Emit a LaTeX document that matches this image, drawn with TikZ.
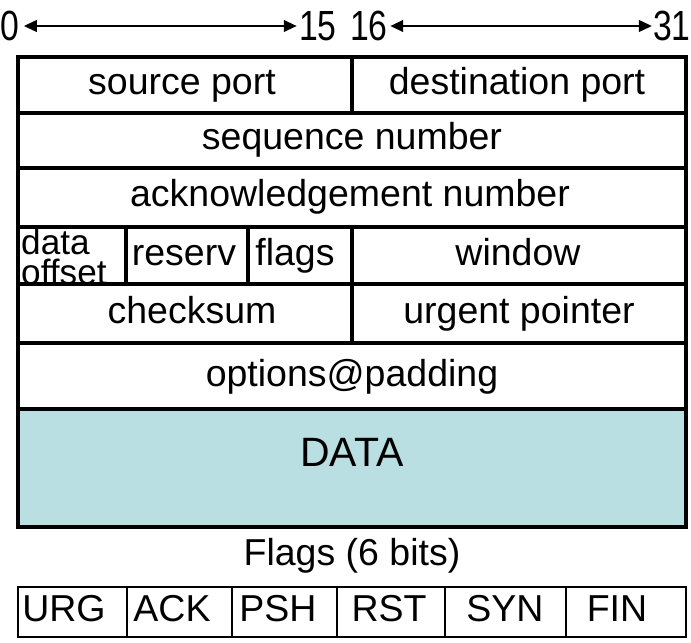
\documentclass[tikz,border=0pt]{standalone}
\usepackage{fontspec}
\setmainfont{Liberation Sans}
\newfontfamily\narrowdigits[FakeStretch=0.8]{Liberation Sans}
\usetikzlibrary{arrows.meta}
\definecolor{datacyan}{RGB}{186,223,227}
\tikzset{
  field/.style={font=\fontsize{32}{30}\selectfont, inner sep=1pt, text height=23pt, text depth=6pt},
  bignum/.style={font=\narrowdigits\fontsize{36}{30}\selectfont, inner sep=2pt, text height=25pt, text depth=0pt},
  rowline/.style={line width=2.8pt},
  flagline/.style={line width=1.6pt},
  bitarrow/.style={line width=1.5pt, {Triangle[length=11pt,width=10pt]}-{Triangle[length=11pt,width=10pt]}}
}

\begin{document}
\begin{tikzpicture}[x=0.03cm, y=-0.03cm]
\useasboundingbox (0,0) rectangle (691,643);
% bit numbers
\node[bignum, anchor=west, inner sep=0pt] (b0) at (0,26) {0};
\node[bignum] (b15) at (318,26) {15};
\node[bignum] (b16) at (369,26) {16};
\node[bignum, anchor=east, inner sep=0pt] (b31) at (691,26) {31};
\draw[bitarrow] ([xshift=4pt]b0.east) -- (b15);
\draw[bitarrow] (b16) -- ([xshift=-1pt]b31.west);
% header
\fill[datacyan] (18,409) rectangle (686,527);
\draw[rowline] (18,57) rectangle (686,527);
\foreach \y in {113,168,227,284,343,409}
\draw[rowline] (18,\y) -- (686,\y);
\draw[rowline] (352,57) -- (352,113);
\draw[rowline] (126,227) -- (126,284);
\draw[rowline] (248,227) -- (248,284);
\draw[rowline] (352,227) -- (352,343);
\node[field] (srcport) at (182,85) {source port};
\node[field] (dstport) at (517,85) {destination port};
\node[field] (seqnum) at (352,140) {sequence number};
\node[field] (acknum) at (350,197) {acknowledgement number};
\node[align=left, anchor=west, font=\fontsize{30}{26}\selectfont, inner sep=0pt] (offset) at (21,257) {data\\offset};
\node[field] (reserv) at (184,256) {reserv};
\node[field] (flags) at (295,256) {flags};
\node[field] (window) at (518,256) {window};
\node[field] (checksum) at (192,314) {checksum};
\node[field] (urgent) at (519,314) {urgent pointer};
\node[field] (options) at (352,377) {options@padding};
\node[field, font=\fontsize{35}{30}\selectfont, text height=25pt] (data) at (352,455) {DATA};
% flag bits
\node[field] (flagtitle) at (352,556) {Flags (6 bits)};
\draw[flagline] (18,587) rectangle (686,637);
\foreach \x in {127,232,337,445,566}
\draw[flagline] (\x,587) -- (\x,637);
\node[field] (urg) at (64,612) {URG};
\node[field] (ack) at (172,612) {ACK};
\node[field] (psh) at (278,612) {PSH};
\node[field] (rst) at (389,612) {RST};
\node[field] (syn) at (505,612) {SYN};
\node[field] (fin) at (617,612) {FIN};
\end{tikzpicture}
\end{document}
